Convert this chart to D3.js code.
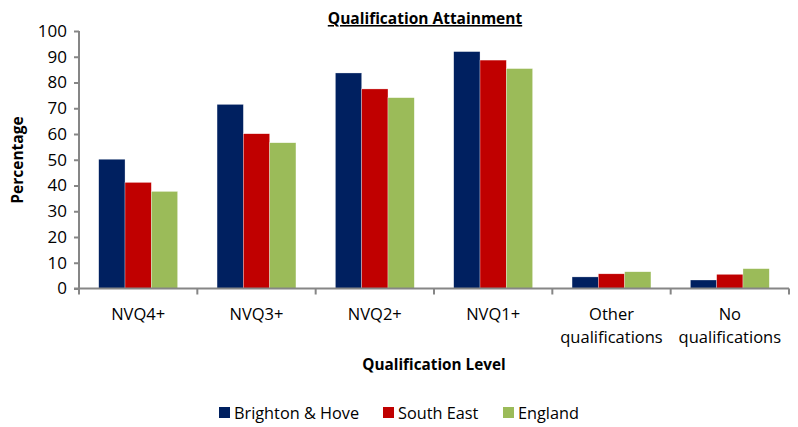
<!DOCTYPE html>
<html>
<head>
<meta charset="utf-8">
<script src="https://cdn.jsdelivr.net/npm/d3@7"></script>
<style>
  body { margin: 0; background: #fff; }
  svg { font-family: "Open Sans", "Noto Sans", sans-serif; }
</style>
</head>
<body>
<svg id="chart" width="798" height="427"></svg>
<script>
var categories = ["NVQ4+", "NVQ3+", "NVQ2+", "NVQ1+", "Other qualifications", "No qualifications"],
    series = ["Brighton & Hove", "South East", "England"],
    brighton = [50.2, 71.5, 83.7, 92.0, 4.5, 3.3],
    southEast = [41.2, 60.1, 77.5, 88.7, 5.7, 5.5],
    england = [37.7, 56.6, 74.1, 85.4, 6.5, 7.7],
    yTicks = [0, 10, 20, 30, 40, 50, 60, 70, 80, 90, 100],
    colors = ["#002060", "#C00000", "#9BBB59"];

var values = [brighton, southEast, england];

var svg = d3.select("#chart"),
    plotL = 79, plotR = 789, plotT = 31, plotB = 288.5;

var x = d3.scaleBand().domain(categories).range([plotL, plotR]).paddingInner(0).paddingOuter(0);
// Excel gap width 150%: three bars share the category with 1.5 bar widths of gap
var x1 = d3.scaleBand().domain(series).range([0, x.bandwidth()]).paddingOuter(0.75).paddingInner(0);
var y = d3.scaleLinear().domain([0, 100]).range([plotB, plotT]);

var axisColor = "#868686";

// bars
var groups = svg.append("g").selectAll("g")
    .data(categories)
    .enter().append("g")
    .attr("transform", function(d) { return "translate(" + x(d) + ",0)"; });

groups.selectAll("rect")
    .data(function(d, i) { return series.map(function(s, j) { return {s: s, v: values[j][i], c: colors[j]}; }); })
    .enter().append("rect")
    .attr("x", function(d) { return x1(d.s); })
    .attr("width", x1.bandwidth())
    .attr("y", function(d) { return y(d.v); })
    .attr("height", function(d) { return plotB - y(d.v); })
    .attr("fill", function(d) { return d.c; })
    .attr("stroke", "rgba(255,255,255,0.6)")
    .attr("stroke-width", 0.5);

// y axis
var yAxis = svg.append("g")
    .attr("transform", "translate(" + plotL + ",0)")
    .call(d3.axisLeft(y).tickValues(yTicks).tickSize(5).tickPadding(7));
yAxis.selectAll("path, line").attr("stroke", axisColor).attr("stroke-width", 2);
yAxis.select("path").attr("d", "M0," + plotT + "V" + plotB);
yAxis.selectAll("text").attr("font-size", 17).attr("fill", "#000").attr("font-family", "Open Sans");

// x axis
var xg = svg.append("g").attr("transform", "translate(0," + plotB + ")");
xg.append("line").attr("x1", plotL - 5).attr("x2", plotR).attr("stroke", axisColor).attr("stroke-width", 2);
xg.selectAll(".tk")
    .data(categories.concat(["end"]))
    .enter().append("line")
    .attr("x1", function(d, i) { return plotL + i * x.bandwidth(); })
    .attr("x2", function(d, i) { return plotL + i * x.bandwidth(); })
    .attr("y1", 0).attr("y2", 6)
    .attr("stroke", axisColor).attr("stroke-width", 2);

xg.selectAll(".lbl")
    .data(categories)
    .enter().append("text")
    .attr("text-anchor", "middle")
    .attr("font-size", 16.5)
    .attr("x", function(d) { return x(d) + x.bandwidth() / 2; })
    .each(function(d) {
      var words = d.split(" ");
      var t = d3.select(this);
      words.forEach(function(w, k) {
        t.append("tspan").attr("x", x(d) + x.bandwidth() / 2).attr("y", 31 + k * 23).text(w);
      });
    });

// titles
svg.append("text")
    .attr("x", 425).attr("y", 24)
    .attr("text-anchor", "middle")
    .attr("font-size", 15.5).attr("font-weight", "bold")
    .attr("text-decoration", "underline")
    .text("Qualification Attainment");

svg.append("text")
    .attr("transform", "translate(23,160) rotate(-90)")
    .attr("text-anchor", "middle")
    .attr("font-size", 15.5).attr("font-weight", "bold")
    .text("Percentage");

svg.append("text")
    .attr("x", 434).attr("y", 370)
    .attr("text-anchor", "middle")
    .attr("font-size", 15.3).attr("font-weight", "bold")
    .text("Qualification Level");

// legend
var legendX = [219, 383, 503];
var legend = svg.append("g").selectAll("g")
    .data(series)
    .enter().append("g")
    .attr("transform", function(d, i) { return "translate(" + legendX[i] + ",407)"; });
legend.append("rect").attr("width", 11).attr("height", 11).attr("fill", function(d, i) { return colors[i]; });
legend.append("text").attr("x", 15).attr("y", 12).attr("font-size", 16.3).text(function(d) { return d; });

// source, cut off at bottom edge
svg.append("text")
    .attr("x", -10).attr("y", 436)
    .attr("font-size", 13)
    .text("Source: NOMIS");
</script>
</body>
</html>
